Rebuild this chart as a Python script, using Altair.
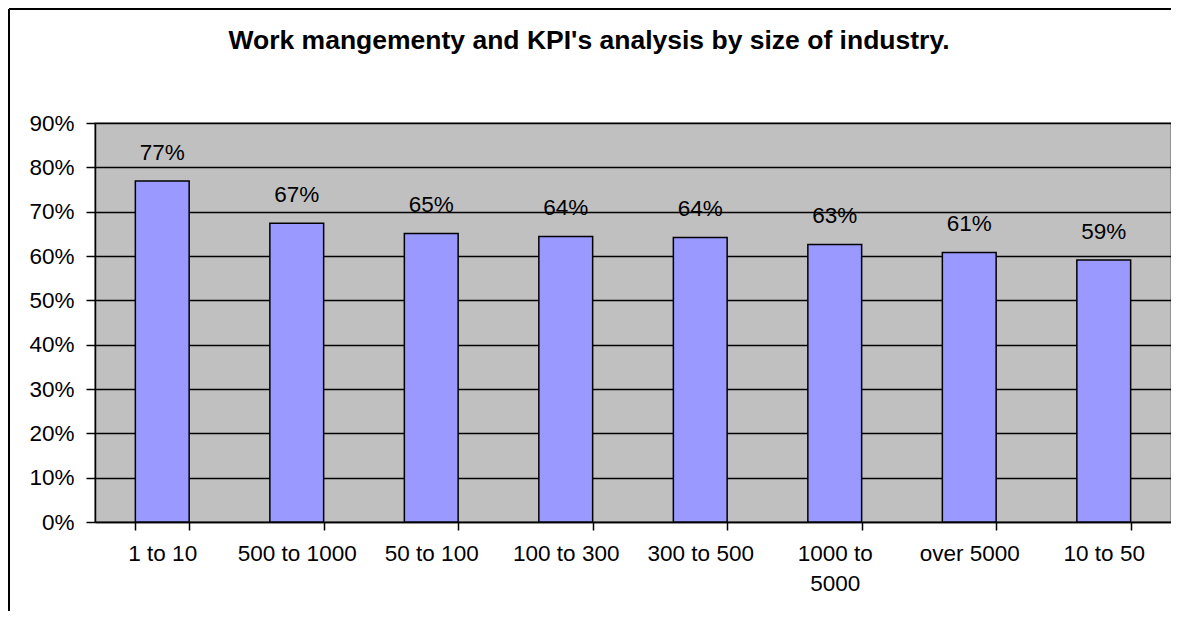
import altair as alt
import pandas as pd

categories = ["1 to 10", "500 to 1000", "50 to 100", "100 to 300", "300 to 500",
              "1000 to 5000", "over 5000", "10 to 50"]
values = [0.769, 0.674, 0.651, 0.644, 0.642, 0.626, 0.608, 0.591]
y_ticks = [0.0, 0.1, 0.2, 0.3, 0.4, 0.5, 0.6, 0.7, 0.8, 0.9]
title_text = "Work mangementy and KPI's analysis by size of industry."

df = pd.DataFrame({"cat": categories, "val": values})

FONT = "Liberation Sans"
FS = 22.5

x_enc = alt.X(
    "cat:N", sort=categories,
    scale=alt.Scale(paddingInner=0.6, paddingOuter=0.3),
    axis=alt.Axis(
        title=None, labelAngle=0, tickBand="extent", tickSize=8, tickWidth=1.5,
        tickColor="black", domainColor="black", domainWidth=1.5,
        labelFontSize=FS, labelColor="black", labelPadding=12, labelLineHeight=30,
        labelFont=FONT,
        labelExpr="datum.label == '1000 to 5000' ? ['1000 to', '5000'] : datum.label",
    ),
)
y_enc = alt.Y(
    "val:Q",
    scale=alt.Scale(domain=[0, 0.9], nice=False),
    axis=alt.Axis(
        title=None, values=y_ticks, format=".0%", tickSize=9, tickWidth=1.5,
        tickColor="black", domainColor="black", domainWidth=1.5,
        gridColor="black", gridWidth=1.5, grid=True,
        labelFontSize=FS, labelColor="black", labelPadding=12, labelFont=FONT,
    ),
)

bars = alt.Chart(df).mark_bar(color="#9999FF", stroke="black", strokeWidth=1.5).encode(
    x=x_enc, y=y_enc
)

labels = alt.Chart(df).mark_text(
    dy=-21, baseline="alphabetic", fontSize=FS, font=FONT, color="black"
).encode(
    x=alt.X("cat:N", sort=categories),
    y=alt.Y("val:Q"),
    text=alt.Text("val:Q", format=".0%"),
)

title_df = pd.DataFrame({"t": [title_text]})
title = alt.Chart(title_df).mark_text(
    fontSize=26.5, fontWeight="bold", font=FONT, color="black", baseline="alphabetic",
    align="center"
).encode(
    x=alt.value(494), y=alt.value(-74), text="t:N"
)

frame_df = pd.DataFrame({"a": [0]})
frame_top = alt.Chart(frame_df).mark_rule(color="black", strokeWidth=2).encode(
    x=alt.value(-86), x2=alt.value(1200), y=alt.value(-114)
)
frame_left = alt.Chart(frame_df).mark_rule(color="black", strokeWidth=2).encode(
    x=alt.value(-86), y=alt.value(-114), y2=alt.value(600)
)

chart = alt.layer(bars, labels, title, frame_top, frame_left).properties(
    width=1076, height=399,
    autosize=alt.AutoSizeParams(type="none"),
    padding={"left": 87, "top": 115, "right": 0, "bottom": 89},
    background="white",
).configure_view(
    fill="#C0C0C0", stroke="#808080", strokeWidth=1.5
)

chart.save("out.html", embed_options={"renderer": "svg", "actions": False})
